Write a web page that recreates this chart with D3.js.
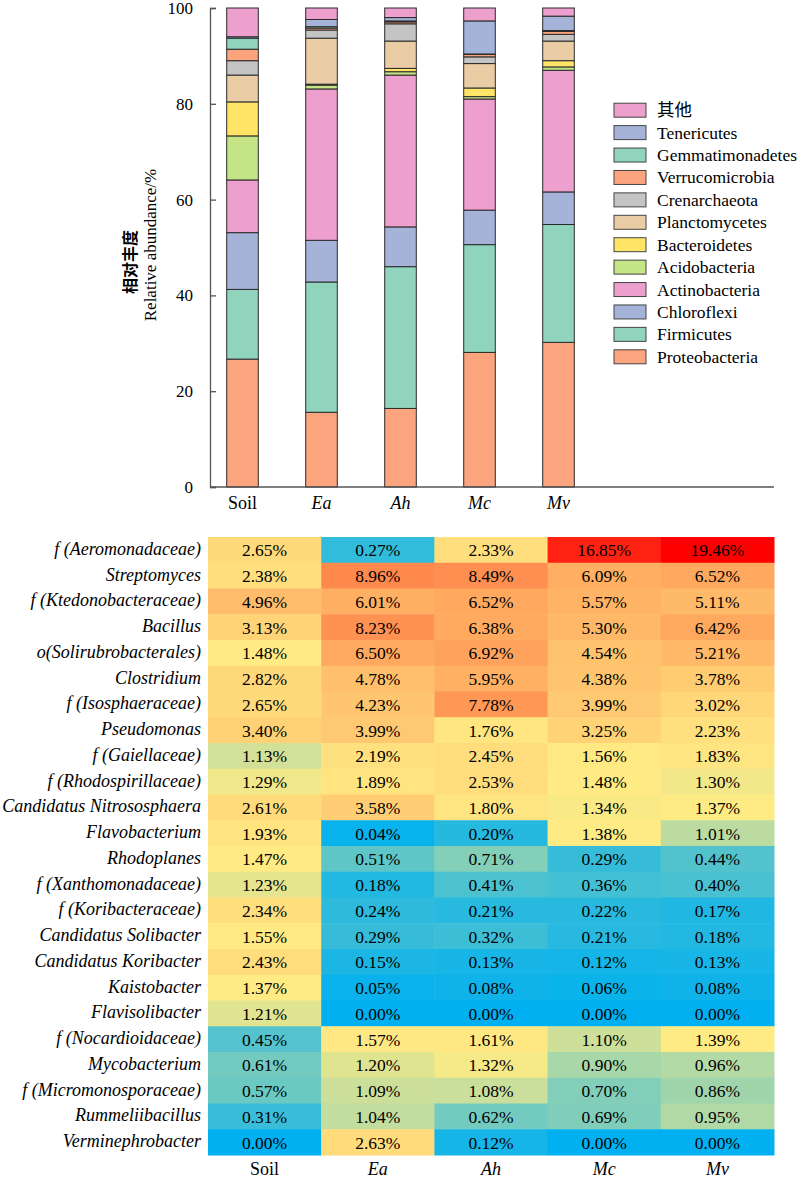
<!DOCTYPE html>
<html>
<head>
<meta charset="utf-8">
<script src="https://cdn.jsdelivr.net/npm/d3@7"></script>
<style>
  body { margin: 0; background: #fff; }
  svg text { font-family: "Liberation Serif", "Times New Roman", serif; fill: #000; }
</style>
</head>
<body>
<div id="chart"></div>
<script>
// samples
const samples = ["Soil", "Ea", "Ah", "Mc", "Mv"];
const italicSamples = ["Ea", "Ah", "Mc", "Mv"];

// phyla, bottom of the stack first
const phyla = ["Proteobacteria", "Firmicutes", "Chloroflexi", "Actinobacteria", "Acidobacteria",
  "Bacteroidetes", "Planctomycetes", "Crenarchaeota", "Verrucomicrobia", "Gemmatimonadetes",
  "Tenericutes", "其他"];
const phylaColors = ["#FCA47E", "#91D4BE", "#A6B3D9", "#EDA0CE", "#C4E486",
  "#FFE465", "#EACDA5", "#C4C4C4", "#FCA47E", "#91D4BE", "#A6B3D9", "#EDA0CE"];

// relative abundance (%) per sample, same order as phyla
const soilPhyla = [26.7, 14.55, 11.85, 11.0, 9.2, 7.1, 5.6, 3.0, 2.4, 2.3, 0.3, 6.0];
const eaPhyla   = [15.6, 27.2, 8.7, 31.6, 0.8, 0.2, 9.6, 1.7, 0.4, 0.3, 1.5, 2.4];
const ahPhyla   = [16.4, 29.6, 8.3, 31.7, 0.7, 0.7, 5.7, 3.6, 0.4, 0.2, 0.7, 2.0];
const mcPhyla   = [28.1, 22.5, 7.2, 23.2, 0.5, 1.8, 5.1, 1.4, 0.5, 0.1, 6.9, 2.7];
const mvPhyla   = [30.2, 24.6, 6.8, 25.4, 0.7, 1.3, 4.1, 1.4, 0.6, 0.2, 3.0, 1.7];
const yTicks = [0, 20, 40, 60, 80, 100];

// genus heatmap
const genera = ["f (Aeromonadaceae)", "Streptomyces", "f (Ktedonobacteraceae)", "Bacillus",
  "o(Solirubrobacterales)", "Clostridium", "f (Isosphaeraceae)", "Pseudomonas", "f (Gaiellaceae)",
  "f (Rhodospirillaceae)", "Candidatus Nitrososphaera", "Flavobacterium", "Rhodoplanes",
  "f (Xanthomonadaceae)", "f (Koribacteraceae)", "Candidatus Solibacter", "Candidatus Koribacter",
  "Kaistobacter", "Flavisolibacter", "f (Nocardioidaceae)", "Mycobacterium",
  "f (Micromonosporaceae)", "Rummeliibacillus", "Verminephrobacter"];
const soilGenus = [2.65, 2.38, 4.96, 3.13, 1.48, 2.82, 2.65, 3.40, 1.13, 1.29, 2.61, 1.93, 1.47, 1.23, 2.34, 1.55, 2.43, 1.37, 1.21, 0.45, 0.61, 0.57, 0.31, 0.00];
const eaGenus   = [0.27, 8.96, 6.01, 8.23, 6.50, 4.78, 4.23, 3.99, 2.19, 1.89, 3.58, 0.04, 0.51, 0.18, 0.24, 0.29, 0.15, 0.05, 0.00, 1.57, 1.20, 1.09, 1.04, 2.63];
const ahGenus   = [2.33, 8.49, 6.52, 6.38, 6.92, 5.95, 7.78, 1.76, 2.45, 2.53, 1.80, 0.20, 0.71, 0.41, 0.21, 0.32, 0.13, 0.08, 0.00, 1.61, 1.32, 1.08, 0.62, 0.12];
const mcGenus   = [16.85, 6.09, 5.57, 5.30, 4.54, 4.38, 3.99, 3.25, 1.56, 1.48, 1.34, 1.38, 0.29, 0.36, 0.22, 0.21, 0.12, 0.06, 0.00, 1.10, 0.90, 0.70, 0.69, 0.00];
const mvGenus   = [19.46, 6.52, 5.11, 6.42, 5.21, 3.78, 3.02, 2.23, 1.83, 1.30, 1.37, 1.01, 0.44, 0.40, 0.17, 0.18, 0.13, 0.08, 0.00, 1.39, 0.96, 0.86, 0.95, 0.00];

const phylaBySample = [soilPhyla, eaPhyla, ahPhyla, mcPhyla, mvPhyla];
const genusBySample = [soilGenus, eaGenus, ahGenus, mcGenus, mvGenus];

const width = 800, height = 1180;
const svg = d3.select("#chart").append("svg")
    .attr("width", width)
    .attr("height", height)
    .attr("viewBox", [0, 0, width, height]);

// ---------- stacked bars ----------
const barTable = samples.map((s, i) => {
  const row = { sample: s };
  phyla.forEach((p, j) => row[p] = phylaBySample[i][j]);
  return row;
});
const stacked = d3.stack().keys(phyla)(barTable);

const x = d3.scaleBand().domain(samples).range([203, 598]).paddingInner(0.6).paddingOuter(0.3);
const y = d3.scaleLinear().domain([0, 100]).range([487, 8]);

svg.append("g")
    .selectAll("g")
    .data(stacked)
    .join("g")
      .attr("fill", (d, i) => phylaColors[i])
    .selectAll("rect")
    .data(d => d)
    .join("rect")
      .attr("x", d => x(d.data.sample))
      .attr("y", d => y(d[1]))
      .attr("width", x.bandwidth())
      .attr("height", d => y(d[0]) - y(d[1]))
      .attr("stroke", "#2b2b2b")
      .attr("stroke-width", 1);

svg.append("g")
    .attr("transform", "translate(210,0)")
    .call(d3.axisLeft(y).tickValues(yTicks).tickSizeInner(-6).tickSizeOuter(-6).tickPadding(17))
    .call(g => g.selectAll("path, line").attr("stroke", "#555").attr("stroke-width", 1.3))
    .call(g => g.selectAll("text").attr("font-size", 17).attr("font-family", "Liberation Serif"));

svg.append("line")
    .attr("x1", 210).attr("x2", 774)
    .attr("y1", y(0)).attr("y2", y(0))
    .attr("stroke", "#555").attr("stroke-width", 1.3);

svg.append("g").selectAll("text")
    .data(samples)
    .join("text")
      .attr("x", d => x(d) + x.bandwidth() / 2)
      .attr("y", 509)
      .attr("text-anchor", "middle")
      .attr("font-size", 18)
      .attr("font-style", d => italicSamples.includes(d) ? "italic" : "normal")
      .text(d => d);

// y title
svg.append("text")
    .attr("transform", "translate(136,262) rotate(-90)")
    .attr("text-anchor", "middle")
    .attr("font-size", 16)
    .attr("font-weight", "bold")
    .style("font-family", "'Noto Sans CJK SC', sans-serif")
    .text("相对丰度");
svg.append("text")
    .attr("transform", "translate(156,245) rotate(-90)")
    .attr("text-anchor", "middle")
    .attr("font-size", 17)
    .text("Relative abundance/%");

// legend, top entry is the top of the stack
const legendItems = phyla.map((p, i) => ({ name: p, color: phylaColors[i] })).reverse();
const ly = d3.scaleBand().domain(legendItems.map(d => d.name)).range([99, 368]);
const legend = svg.append("g").selectAll("g")
    .data(legendItems)
    .join("g")
      .attr("transform", d => `translate(614,${ly(d.name)})`);
legend.append("rect")
    .attr("width", 32).attr("height", 14)
    .attr("y", (ly.bandwidth() - 14) / 2)
    .attr("fill", d => d.color)
    .attr("stroke", "#444").attr("stroke-width", 1);
legend.append("text")
    .attr("x", 43)
    .attr("y", ly.bandwidth() / 2 + 6)
    .attr("font-size", 17.5)
    .style("font-family", d => d.name === "其他" ? "'Noto Sans CJK SC', sans-serif" : null)
    .text(d => d.name);

// ---------- heatmap ----------
const cells = [];
genera.forEach((g, r) => samples.forEach((s, c) => cells.push({ genus: g, sample: s, value: genusBySample[c][r] })));
const allValues = cells.map(d => d.value);

const hx = d3.scaleBand().domain(samples).range([208, 774]);
const hy = d3.scaleBand().domain(genera).range([537, 1155]);
const color = d3.scaleLinear()
    .domain([0, d3.median(allValues), d3.max(allValues)])
    .range(["#00B0F0", "#FFEB84", "#FF0000"]);

const cellG = svg.append("g").selectAll("g")
    .data(cells)
    .join("g");
cellG.append("rect")
    .attr("x", d => hx(d.sample))
    .attr("y", d => hy(d.genus))
    .attr("width", hx.bandwidth() + 0.5)
    .attr("height", hy.bandwidth() + 0.5)
    .attr("fill", d => color(d.value));
cellG.append("text")
    .attr("x", d => hx(d.sample) + hx.bandwidth() / 2)
    .attr("y", d => hy(d.genus) + hy.bandwidth() / 2 + 6.5)
    .attr("text-anchor", "middle")
    .attr("font-size", 17.5)
    .text(d => d.value.toFixed(2) + "%");

svg.append("g").selectAll("text")
    .data(genera)
    .join("text")
      .attr("x", 201)
      .attr("y", d => hy(d) + hy.bandwidth() / 2 + 5)
      .attr("text-anchor", "end")
      .attr("font-size", 18)
      .attr("font-style", "italic")
      .text(d => d);

svg.append("g").selectAll("text")
    .data(samples)
    .join("text")
      .attr("x", d => hx(d) + hx.bandwidth() / 2)
      .attr("y", 1175)
      .attr("text-anchor", "middle")
      .attr("font-size", 18)
      .attr("font-style", d => italicSamples.includes(d) ? "italic" : "normal")
      .text(d => d);
</script>
</body>
</html>
